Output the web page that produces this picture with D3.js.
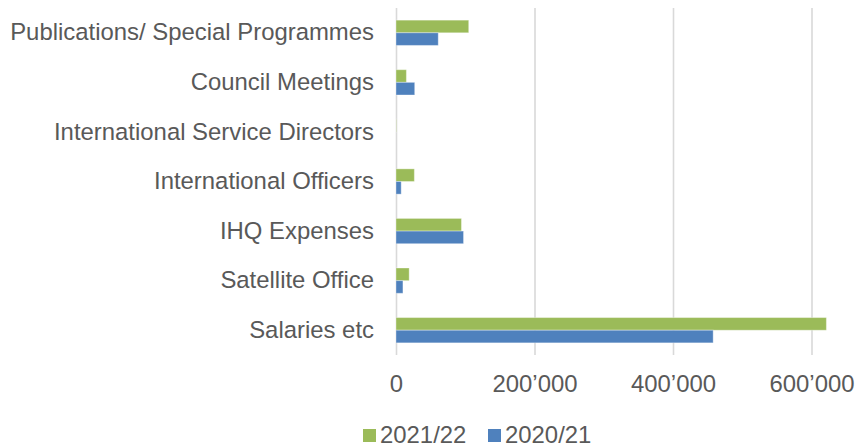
<!DOCTYPE html>
<html>
<head>
<meta charset="utf-8">
<script src="https://cdn.jsdelivr.net/npm/d3@7"></script>
<style>
  html, body { margin: 0; padding: 0; background: #fff; }
  svg { display: block; font-family: "Liberation Sans", Arial, sans-serif; }
</style>
</head>
<body>
<svg id="chart" width="857" height="447"></svg>
<script>
// Expense categories, top to bottom
const categories = [
  "Publications/ Special Programmes",
  "Council Meetings",
  "International Service Directors",
  "International Officers",
  "IHQ Expenses",
  "Satellite Office",
  "Salaries etc"
];
const seriesNames = ["2021/22", "2020/21"];
const values2021_22 = [105000, 15000, 400, 26500, 94500, 19000, 621500];
const values2020_21 = [61000, 27000, 0, 7500, 97500, 10000, 458000];
const tickValues = [0, 200000, 400000, 600000];
const colors = ["#9BBB59", "#4F81BD"];

const seriesValues = [values2021_22, values2020_21];
const svg = d3.select("#chart");

const fontSize = 23.9;
const textColor = "#595959";

const x = d3.scaleLinear().domain([0, 600000]).range([396, 811.5]);
const y = d3.scaleBand().domain(categories).range([8, 355])
  .paddingInner(0.49).paddingOuter(0.245);
const ys = d3.scaleBand().domain(seriesNames).range([0, y.bandwidth()]);

const fmt = d3.formatLocale({ decimal: ".", thousands: "\u2019", grouping: [3], currency: ["", ""] }).format(",d");

// Vertical gridlines and value axis labels
const xAxis = d3.axisBottom(x).tickValues(tickValues).tickFormat(fmt)
  .tickSizeInner(-(355 - 8)).tickSizeOuter(0).tickPadding(0);
const gx = svg.append("g").attr("transform", "translate(0,355)").call(xAxis);
gx.select(".domain").remove();
gx.selectAll(".tick line").attr("stroke", "#d9d9d9").attr("stroke-width", 1.6);
gx.selectAll(".tick text")
  .attr("y", 37).attr("dy", null)
  .attr("font-size", fontSize).attr("fill", textColor)
  .attr("font-family", "Liberation Sans, Arial, sans-serif");

// Bars
const rows = categories.map((c, i) => ({ c, v: seriesNames.map((s, k) => ({ s, k, val: seriesValues[k][i] })) }));
const gRows = svg.append("g").selectAll("g").data(rows).join("g")
  .attr("transform", d => `translate(0,${y(d.c)})`);
gRows.selectAll("rect").data(d => d.v).join("rect")
  .attr("x", x(0))
  .attr("y", d => ys(d.s))
  .attr("width", d => Math.max(0, x(d.val) - x(0)))
  .attr("height", ys.bandwidth())
  .attr("fill", d => colors[d.k])
  .attr("stroke", "#ffffff").attr("stroke-opacity", 0.35).attr("stroke-width", 1);

// Category labels
const yAxis = d3.axisLeft(y).tickSize(0).tickPadding(22);
const gy = svg.append("g").attr("transform", `translate(${x(0)},0)`).call(yAxis);
gy.select(".domain").remove();
gy.selectAll(".tick text")
  .attr("font-size", fontSize).attr("fill", textColor)
  .attr("font-family", "Liberation Sans, Arial, sans-serif");

// Legend
const legendItems = [
  { name: seriesNames[0], color: colors[0], x: 363 },
  { name: seriesNames[1], color: colors[1], x: 488 }
];
const lg = svg.append("g").selectAll("g").data(legendItems).join("g")
  .attr("transform", d => `translate(${d.x},0)`);
lg.append("rect").attr("x", 0).attr("y", 429).attr("width", 13).attr("height", 13)
  .attr("fill", d => d.color);
lg.append("text").attr("x", 17).attr("y", 443)
  .attr("font-size", fontSize).attr("fill", textColor)
  .text(d => d.name);
</script>
</body>
</html>
